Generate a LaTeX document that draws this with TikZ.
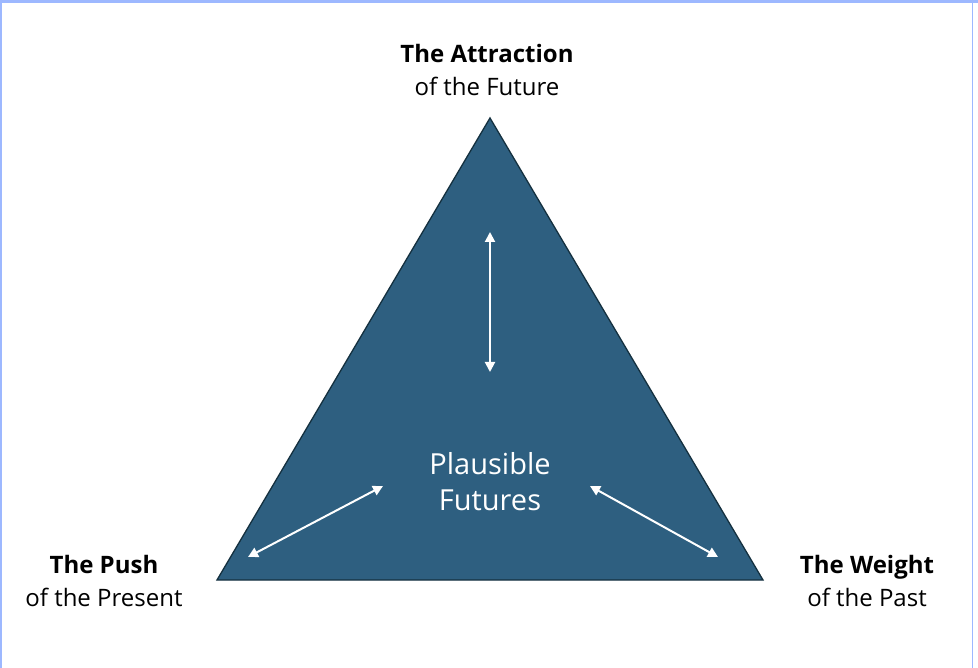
\documentclass[tikz,border=0pt]{standalone}
\usepackage{fontspec}
\setmainfont{Open Sans}
\usetikzlibrary{arrows.meta}

\definecolor{tribg}{HTML}{2E5F80}
\definecolor{triedge}{HTML}{14303F}
\definecolor{framebl}{HTML}{9DB8FF}

\tikzset{
  cornerlbl/.style={align=center,font=\fontsize{24}{33}\selectfont,text=black},
  twoway/.style={draw=white,line width=2pt,{Triangle[length=10pt,width=10pt]}-{Triangle[length=10pt,width=10pt]}},
}

\begin{document}
\begin{tikzpicture}[x=1pt,y=-1pt]
        \useasboundingbox (0,0) rectangle (978,668) ;
        % frame
        \fill[white] (0,0) rectangle (978,668) ;
        \fill[framebl] (0,0) rectangle (978,3) ;
        \fill[framebl] (0,0) rectangle (1.5,668) ;
        \fill[framebl] (972,0) rectangle (973.2,668) ;
        % triangle
        \coordinate (apex) at (490,118) ;
        \coordinate (bl) at (217,580) ;
        \coordinate (br) at (763,580) ;
        \draw[color=triedge,fill=tribg,line width=1.3pt,line join=miter] (apex) -- (br) -- (bl) -- cycle ;
        % arrows
        \coordinate (topA) at (490,232) ;
        \coordinate (topB) at (490,372) ;
        \coordinate (leftA) at (248,557) ;
        \coordinate (leftB) at (383,486) ;
        \coordinate (rightA) at (590,486) ;
        \coordinate (rightB) at (718,557) ;
        \draw[twoway] (topA) -- (topB) ;
        \draw[twoway] (leftA) -- (leftB) ;
        \draw[twoway] (rightA) -- (rightB) ;
        % labels
        \node[cornerlbl,font=\fontsize{29}{36}\selectfont,text=white] (centre) at (490,482) {Plausible\\Futures} ;
        \node[cornerlbl] (future) at (487,70) {\textbf{The Attraction}\\of the Future} ;
        \node[cornerlbl] (present) at (104,581) {\textbf{The Push}\\of the Present} ;
        \node[cornerlbl] (past) at (867,581) {\textbf{The Weight}\\of the Past} ;
\end{tikzpicture}
\end{document}
